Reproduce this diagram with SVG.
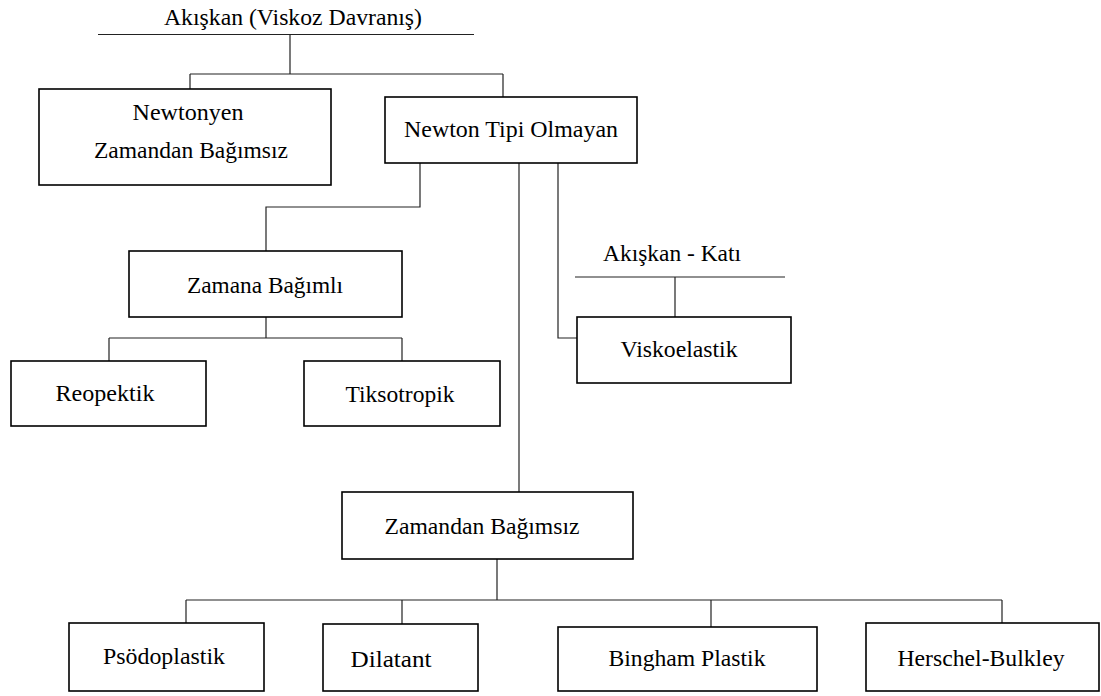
<svg xmlns="http://www.w3.org/2000/svg" width="1101" height="696" viewBox="0 0 1101 696">
<style>
.box{fill:#fff;stroke:#000;stroke-width:1.6}
.ln{fill:none;stroke:#222;stroke-width:1.2}
text{font-size:24px;fill:#000;text-anchor:middle}
</style>
<rect width="1101" height="696" fill="#fff"/>
<g id="connectors">
<path class="ln" d="M98 34.5H474"/>
<path class="ln" d="M290 34.5V74M190 74H503M190 74V89M503 74V97"/>
<path class="ln" d="M420 163V207H266V251"/>
<path class="ln" d="M266 317V338M109 338H402M109 338V361M402 338V361"/>
<path class="ln" d="M558 163V338H577"/>
<path class="ln" d="M575 277H785M675 277V317"/>
<path class="ln" d="M519 163V492"/>
<path class="ln" d="M497 559V600M186 600H1002M186 600V623M402 600V624M711 600V627M1002 600V623"/>
</g>
<g font-family="'Liberation Serif', 'Times New Roman', Times, serif">
<g id="title"><text x="293" y="25" textLength="258" lengthAdjust="spacingAndGlyphs">Akışkan (Viskoz Davranış)</text></g>
<g id="newtonyen"><rect class="box" x="39" y="89" width="292" height="96"/><text x="188" y="120" textLength="111" lengthAdjust="spacingAndGlyphs">Newtonyen</text><text x="191" y="158" textLength="194" lengthAdjust="spacingAndGlyphs">Zamandan Bağımsız</text></g>
<g id="newton-tipi"><rect class="box" x="385" y="97" width="252" height="66"/><text x="511" y="137" textLength="214" lengthAdjust="spacingAndGlyphs">Newton Tipi Olmayan</text></g>
<g id="zamana"><rect class="box" x="129" y="251" width="273" height="66"/><text x="265" y="293" textLength="156" lengthAdjust="spacingAndGlyphs">Zamana Bağımlı</text></g>
<g id="reopektik"><rect class="box" x="11" y="361" width="195" height="65"/><text x="105" y="401" textLength="99" lengthAdjust="spacingAndGlyphs">Reopektik</text></g>
<g id="tiksotropik"><rect class="box" x="304" y="361" width="196" height="65"/><text x="400" y="402" textLength="109" lengthAdjust="spacingAndGlyphs">Tiksotropik</text></g>
<g id="akiskan-kati"><text x="672" y="261" textLength="138" lengthAdjust="spacingAndGlyphs">Akışkan - Katı</text></g>
<g id="viskoelastik"><rect class="box" x="577" y="317" width="214" height="66"/><text x="679" y="357" textLength="117" lengthAdjust="spacingAndGlyphs">Viskoelastik</text></g>
<g id="zamandan"><rect class="box" x="342" y="492" width="291" height="67"/><text x="482" y="534" textLength="195" lengthAdjust="spacingAndGlyphs">Zamandan Bağımsız</text></g>
<g id="psodoplastik"><rect class="box" x="69" y="623" width="195" height="68"/><text x="164" y="664" textLength="122" lengthAdjust="spacingAndGlyphs">Psödoplastik</text></g>
<g id="dilatant"><rect class="box" x="323" y="624" width="155" height="67"/><text x="391" y="667" textLength="81" lengthAdjust="spacingAndGlyphs">Dilatant</text></g>
<g id="bingham"><rect class="box" x="558" y="627" width="259" height="64"/><text x="687" y="666" textLength="157" lengthAdjust="spacingAndGlyphs">Bingham Plastik</text></g>
<g id="herschel"><rect class="box" x="866" y="623" width="233" height="68"/><text x="981" y="666" textLength="167" lengthAdjust="spacingAndGlyphs">Herschel-Bulkley</text></g>
</g>
</svg>
